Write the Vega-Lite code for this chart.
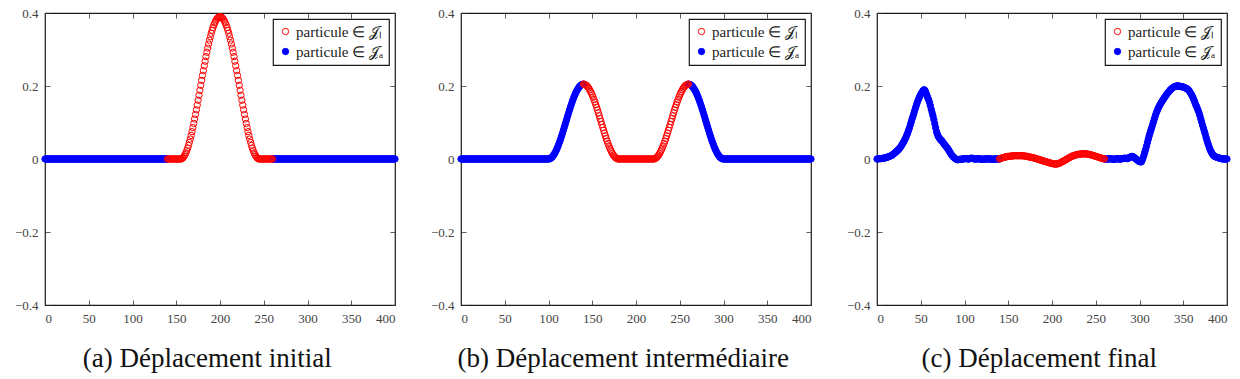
{
  "$schema": "https://vega.github.io/schema/vega-lite/v6.json",
  "padding": {"left": 13, "top": 6, "right": 3, "bottom": 2},
  "background": "white",
  "config": {
    "font": "Times New Roman",
    "view": {"stroke": "#1a1a1a", "strokeWidth": 1.2},
    "axis": {"grid": false, "domain": false, "title": null, "tickColor": "#333", "tickSize": -5, "tickWidth": 0.8, "labelFont": "Times New Roman", "labelFontSize": 13, "labelColor": "#444", "labelPadding": 12},
    "legend": {"orient": "top-right", "offset": 6, "strokeColor": "#1a1a1a", "strokeWidth": 1.2, "fillColor": "white", "padding": 5, "labelFont": "Times New Roman", "labelFontSize": 15, "labelColor": "#222", "labelOffset": 3, "symbolSize": 40, "symbolStrokeWidth": 1, "symbolType": "circle", "rowPadding": 4, "cornerRadius": 0, "title": null},
    "title": {"font": "Times New Roman", "fontSize": 27, "fontWeight": "normal", "color": "#111", "orient": "bottom", "anchor": "middle", "frame": "bounds", "offset": 21},
    "concat": {"spacing": 28}
  },
  "datasets": {
    "pts": [
      {"x":0,"g":"Ja","ini":0,"mid":0,"fin":0},
      {"x":1,"g":"Ja","ini":0,"mid":0,"fin":0},
      {"x":2,"g":"Ja","ini":0,"mid":0,"fin":0.001},
      {"x":3,"g":"Ja","ini":0,"mid":0,"fin":0.001},
      {"x":4,"g":"Ja","ini":0,"mid":0,"fin":0.001},
      {"x":5,"g":"Ja","ini":0,"mid":0,"fin":0.001},
      {"x":6,"g":"Ja","ini":0,"mid":0,"fin":0.002},
      {"x":7,"g":"Ja","ini":0,"mid":0,"fin":0.002},
      {"x":8,"g":"Ja","ini":0,"mid":0,"fin":0.002},
      {"x":9,"g":"Ja","ini":0,"mid":0,"fin":0.003},
      {"x":10,"g":"Ja","ini":0,"mid":0,"fin":0.004},
      {"x":11,"g":"Ja","ini":0,"mid":0,"fin":0.004},
      {"x":12,"g":"Ja","ini":0,"mid":0,"fin":0.005},
      {"x":13,"g":"Ja","ini":0,"mid":0,"fin":0.006},
      {"x":14,"g":"Ja","ini":0,"mid":0,"fin":0.007},
      {"x":15,"g":"Ja","ini":0,"mid":0,"fin":0.008},
      {"x":16,"g":"Ja","ini":0,"mid":0,"fin":0.009},
      {"x":17,"g":"Ja","ini":0,"mid":0,"fin":0.01},
      {"x":18,"g":"Ja","ini":0,"mid":0,"fin":0.012},
      {"x":19,"g":"Ja","ini":0,"mid":0,"fin":0.014},
      {"x":20,"g":"Ja","ini":0,"mid":0,"fin":0.016},
      {"x":21,"g":"Ja","ini":0,"mid":0,"fin":0.018},
      {"x":22,"g":"Ja","ini":0,"mid":0,"fin":0.02},
      {"x":23,"g":"Ja","ini":0,"mid":0,"fin":0.022},
      {"x":24,"g":"Ja","ini":0,"mid":0,"fin":0.025},
      {"x":25,"g":"Ja","ini":0,"mid":0,"fin":0.027},
      {"x":26,"g":"Ja","ini":0,"mid":0,"fin":0.03},
      {"x":27,"g":"Ja","ini":0,"mid":0,"fin":0.033},
      {"x":28,"g":"Ja","ini":0,"mid":0,"fin":0.037},
      {"x":29,"g":"Ja","ini":0,"mid":0,"fin":0.041},
      {"x":30,"g":"Ja","ini":0,"mid":0,"fin":0.045},
      {"x":31,"g":"Ja","ini":0,"mid":0,"fin":0.049},
      {"x":32,"g":"Ja","ini":0,"mid":0,"fin":0.054},
      {"x":33,"g":"Ja","ini":0,"mid":0,"fin":0.059},
      {"x":34,"g":"Ja","ini":0,"mid":0,"fin":0.065},
      {"x":35,"g":"Ja","ini":0,"mid":0,"fin":0.071},
      {"x":36,"g":"Ja","ini":0,"mid":0,"fin":0.078},
      {"x":37,"g":"Ja","ini":0,"mid":0,"fin":0.085},
      {"x":38,"g":"Ja","ini":0,"mid":0,"fin":0.093},
      {"x":39,"g":"Ja","ini":0,"mid":0,"fin":0.101},
      {"x":40,"g":"Ja","ini":0,"mid":0,"fin":0.109},
      {"x":41,"g":"Ja","ini":0,"mid":0,"fin":0.116},
      {"x":42,"g":"Ja","ini":0,"mid":0,"fin":0.124},
      {"x":43,"g":"Ja","ini":0,"mid":0,"fin":0.132},
      {"x":44,"g":"Ja","ini":0,"mid":0,"fin":0.14},
      {"x":45,"g":"Ja","ini":0,"mid":0,"fin":0.147},
      {"x":46,"g":"Ja","ini":0,"mid":0,"fin":0.155},
      {"x":47,"g":"Ja","ini":0,"mid":0,"fin":0.161},
      {"x":48,"g":"Ja","ini":0,"mid":0,"fin":0.167},
      {"x":49,"g":"Ja","ini":0,"mid":0,"fin":0.172},
      {"x":50,"g":"Ja","ini":0,"mid":0,"fin":0.177},
      {"x":51,"g":"Ja","ini":0,"mid":0,"fin":0.181},
      {"x":52,"g":"Ja","ini":0,"mid":0,"fin":0.185},
      {"x":53,"g":"Ja","ini":0,"mid":0,"fin":0.188},
      {"x":54,"g":"Ja","ini":0,"mid":0,"fin":0.19},
      {"x":55,"g":"Ja","ini":0,"mid":0,"fin":0.187},
      {"x":56,"g":"Ja","ini":0,"mid":0,"fin":0.181},
      {"x":57,"g":"Ja","ini":0,"mid":0,"fin":0.175},
      {"x":58,"g":"Ja","ini":0,"mid":0,"fin":0.168},
      {"x":59,"g":"Ja","ini":0,"mid":0,"fin":0.162},
      {"x":60,"g":"Ja","ini":0,"mid":0,"fin":0.155},
      {"x":61,"g":"Ja","ini":0,"mid":0,"fin":0.146},
      {"x":62,"g":"Ja","ini":0,"mid":0,"fin":0.136},
      {"x":63,"g":"Ja","ini":0,"mid":0,"fin":0.127},
      {"x":64,"g":"Ja","ini":0,"mid":0,"fin":0.118},
      {"x":65,"g":"Ja","ini":0,"mid":0,"fin":0.108},
      {"x":66,"g":"Ja","ini":0,"mid":0,"fin":0.097},
      {"x":67,"g":"Ja","ini":0,"mid":0,"fin":0.086},
      {"x":68,"g":"Ja","ini":0,"mid":0,"fin":0.075},
      {"x":69,"g":"Ja","ini":0,"mid":0,"fin":0.068},
      {"x":70,"g":"Ja","ini":0,"mid":0,"fin":0.062},
      {"x":71,"g":"Ja","ini":0,"mid":0,"fin":0.058},
      {"x":72,"g":"Ja","ini":0,"mid":0,"fin":0.055},
      {"x":73,"g":"Ja","ini":0,"mid":0,"fin":0.052},
      {"x":74,"g":"Ja","ini":0,"mid":0,"fin":0.05},
      {"x":75,"g":"Ja","ini":0,"mid":0,"fin":0.047},
      {"x":76,"g":"Ja","ini":0,"mid":0,"fin":0.043},
      {"x":77,"g":"Ja","ini":0,"mid":0,"fin":0.04},
      {"x":78,"g":"Ja","ini":0,"mid":0,"fin":0.037},
      {"x":79,"g":"Ja","ini":0,"mid":0,"fin":0.034},
      {"x":80,"g":"Ja","ini":0,"mid":0,"fin":0.031},
      {"x":81,"g":"Ja","ini":0,"mid":0,"fin":0.028},
      {"x":82,"g":"Ja","ini":0,"mid":0,"fin":0.024},
      {"x":83,"g":"Ja","ini":0,"mid":0,"fin":0.02},
      {"x":84,"g":"Ja","ini":0,"mid":0,"fin":0.016},
      {"x":85,"g":"Ja","ini":0,"mid":0,"fin":0.012},
      {"x":86,"g":"Ja","ini":0,"mid":0,"fin":0.009},
      {"x":87,"g":"Ja","ini":0,"mid":0,"fin":0.006},
      {"x":88,"g":"Ja","ini":0,"mid":0,"fin":0.004},
      {"x":89,"g":"Ja","ini":0,"mid":0,"fin":0.002},
      {"x":90,"g":"Ja","ini":0,"mid":0,"fin":0},
      {"x":91,"g":"Ja","ini":0,"mid":0,"fin":-0.001},
      {"x":92,"g":"Ja","ini":0,"mid":0,"fin":-0.002},
      {"x":93,"g":"Ja","ini":0,"mid":0,"fin":-0.002},
      {"x":94,"g":"Ja","ini":0,"mid":0,"fin":-0.001},
      {"x":95,"g":"Ja","ini":0,"mid":0,"fin":-0.001},
      {"x":96,"g":"Ja","ini":0,"mid":0,"fin":-0.001},
      {"x":97,"g":"Ja","ini":0,"mid":0,"fin":0},
      {"x":98,"g":"Ja","ini":0,"mid":0,"fin":0},
      {"x":99,"g":"Ja","ini":0,"mid":0,"fin":0},
      {"x":100,"g":"Ja","ini":0,"mid":0,"fin":0.001},
      {"x":101,"g":"Ja","ini":0,"mid":0.0003,"fin":0.001},
      {"x":102,"g":"Ja","ini":0,"mid":0.0013,"fin":0.001},
      {"x":103,"g":"Ja","ini":0,"mid":0.0028,"fin":0.001},
      {"x":104,"g":"Ja","ini":0,"mid":0.005,"fin":0},
      {"x":105,"g":"Ja","ini":0,"mid":0.0078,"fin":0},
      {"x":106,"g":"Ja","ini":0,"mid":0.0112,"fin":0.001},
      {"x":107,"g":"Ja","ini":0,"mid":0.0151,"fin":0.002},
      {"x":108,"g":"Ja","ini":0,"mid":0.0196,"fin":0.002},
      {"x":109,"g":"Ja","ini":0,"mid":0.0246,"fin":0.002},
      {"x":110,"g":"Ja","ini":0,"mid":0.03,"fin":0.001},
      {"x":111,"g":"Ja","ini":0,"mid":0.0359,"fin":0},
      {"x":112,"g":"Ja","ini":0,"mid":0.0423,"fin":0},
      {"x":113,"g":"Ja","ini":0,"mid":0.0489,"fin":0},
      {"x":114,"g":"Ja","ini":0,"mid":0.056,"fin":0},
      {"x":115,"g":"Ja","ini":0,"mid":0.0633,"fin":0.001},
      {"x":116,"g":"Ja","ini":0,"mid":0.0708,"fin":0.001},
      {"x":117,"g":"Ja","ini":0,"mid":0.0786,"fin":0},
      {"x":118,"g":"Ja","ini":0,"mid":0.0865,"fin":0},
      {"x":119,"g":"Ja","ini":0,"mid":0.0945,"fin":0},
      {"x":120,"g":"Ja","ini":0,"mid":0.1025,"fin":-0.001},
      {"x":121,"g":"Ja","ini":0,"mid":0.1105,"fin":-0.001},
      {"x":122,"g":"Ja","ini":0,"mid":0.1185,"fin":0},
      {"x":123,"g":"Ja","ini":0,"mid":0.1264,"fin":0},
      {"x":124,"g":"Ja","ini":0,"mid":0.1342,"fin":0},
      {"x":125,"g":"Ja","ini":0,"mid":0.1417,"fin":0},
      {"x":126,"g":"Ja","ini":0,"mid":0.149,"fin":0.001},
      {"x":127,"g":"Ja","ini":0,"mid":0.1561,"fin":0},
      {"x":128,"g":"Ja","ini":0,"mid":0.1627,"fin":0},
      {"x":129,"g":"Ja","ini":0,"mid":0.1691,"fin":0},
      {"x":130,"g":"Ja","ini":0,"mid":0.175,"fin":0},
      {"x":131,"g":"Ja","ini":0,"mid":0.1804,"fin":0},
      {"x":132,"g":"Ja","ini":0,"mid":0.1854,"fin":-0.001},
      {"x":133,"g":"Ja","ini":0,"mid":0.1899,"fin":-0.001},
      {"x":134,"g":"Ja","ini":0,"mid":0.1938,"fin":0},
      {"x":135,"g":"Ja","ini":0,"mid":0.1972,"fin":0},
      {"x":136,"g":"Ja","ini":0,"mid":0.2,"fin":0},
      {"x":137,"g":"Ja","ini":0,"mid":0.2022,"fin":0},
      {"x":138,"g":"Ja","ini":0,"mid":0.2037,"fin":0},
      {"x":139,"g":"Ja","ini":0,"mid":0.2047,"fin":0},
      {"x":140,"g":"Ja","ini":0,"mid":0.205,"fin":0},
      {"x":260,"g":"Ja","ini":0,"mid":0.205,"fin":0},
      {"x":261,"g":"Ja","ini":0,"mid":0.2047,"fin":0},
      {"x":262,"g":"Ja","ini":0,"mid":0.2037,"fin":0},
      {"x":263,"g":"Ja","ini":0,"mid":0.2022,"fin":0},
      {"x":264,"g":"Ja","ini":0,"mid":0.2,"fin":0},
      {"x":265,"g":"Ja","ini":0,"mid":0.1972,"fin":0},
      {"x":266,"g":"Ja","ini":0,"mid":0.1938,"fin":0.001},
      {"x":267,"g":"Ja","ini":0,"mid":0.1899,"fin":0.001},
      {"x":268,"g":"Ja","ini":0,"mid":0.1854,"fin":0},
      {"x":269,"g":"Ja","ini":0,"mid":0.1804,"fin":0},
      {"x":270,"g":"Ja","ini":0,"mid":0.175,"fin":-0.001},
      {"x":271,"g":"Ja","ini":0,"mid":0.1691,"fin":-0.001},
      {"x":272,"g":"Ja","ini":0,"mid":0.1627,"fin":0},
      {"x":273,"g":"Ja","ini":0,"mid":0.1561,"fin":0},
      {"x":274,"g":"Ja","ini":0,"mid":0.149,"fin":0.001},
      {"x":275,"g":"Ja","ini":0,"mid":0.1417,"fin":0.001},
      {"x":276,"g":"Ja","ini":0,"mid":0.1342,"fin":0},
      {"x":277,"g":"Ja","ini":0,"mid":0.1264,"fin":0},
      {"x":278,"g":"Ja","ini":0,"mid":0.1185,"fin":0},
      {"x":279,"g":"Ja","ini":0,"mid":0.1105,"fin":0},
      {"x":280,"g":"Ja","ini":0,"mid":0.1025,"fin":0.001},
      {"x":281,"g":"Ja","ini":0,"mid":0.0945,"fin":0.001},
      {"x":282,"g":"Ja","ini":0,"mid":0.0865,"fin":0.002},
      {"x":283,"g":"Ja","ini":0,"mid":0.0786,"fin":0.002},
      {"x":284,"g":"Ja","ini":0,"mid":0.0708,"fin":0.002},
      {"x":285,"g":"Ja","ini":0,"mid":0.0633,"fin":0.002},
      {"x":286,"g":"Ja","ini":0,"mid":0.056,"fin":0.001},
      {"x":287,"g":"Ja","ini":0,"mid":0.0489,"fin":0.002},
      {"x":288,"g":"Ja","ini":0,"mid":0.0423,"fin":0.003},
      {"x":289,"g":"Ja","ini":0,"mid":0.0359,"fin":0.005},
      {"x":290,"g":"Ja","ini":0,"mid":0.03,"fin":0.006},
      {"x":291,"g":"Ja","ini":0,"mid":0.0246,"fin":0.007},
      {"x":292,"g":"Ja","ini":0,"mid":0.0196,"fin":0.007},
      {"x":293,"g":"Ja","ini":0,"mid":0.0151,"fin":0.006},
      {"x":294,"g":"Ja","ini":0,"mid":0.0112,"fin":0.004},
      {"x":295,"g":"Ja","ini":0,"mid":0.0078,"fin":0.002},
      {"x":296,"g":"Ja","ini":0,"mid":0.005,"fin":0},
      {"x":297,"g":"Ja","ini":0,"mid":0.0028,"fin":-0.002},
      {"x":298,"g":"Ja","ini":0,"mid":0.0013,"fin":-0.004},
      {"x":299,"g":"Ja","ini":0,"mid":0.0003,"fin":-0.006},
      {"x":300,"g":"Ja","ini":0,"mid":0,"fin":-0.007},
      {"x":301,"g":"Ja","ini":0,"mid":0,"fin":-0.008},
      {"x":302,"g":"Ja","ini":0,"mid":0,"fin":-0.008},
      {"x":303,"g":"Ja","ini":0,"mid":0,"fin":-0.004},
      {"x":304,"g":"Ja","ini":0,"mid":0,"fin":0.003},
      {"x":305,"g":"Ja","ini":0,"mid":0,"fin":0.01},
      {"x":306,"g":"Ja","ini":0,"mid":0,"fin":0.018},
      {"x":307,"g":"Ja","ini":0,"mid":0,"fin":0.026},
      {"x":308,"g":"Ja","ini":0,"mid":0,"fin":0.035},
      {"x":309,"g":"Ja","ini":0,"mid":0,"fin":0.045},
      {"x":310,"g":"Ja","ini":0,"mid":0,"fin":0.054},
      {"x":311,"g":"Ja","ini":0,"mid":0,"fin":0.063},
      {"x":312,"g":"Ja","ini":0,"mid":0,"fin":0.071},
      {"x":313,"g":"Ja","ini":0,"mid":0,"fin":0.079},
      {"x":314,"g":"Ja","ini":0,"mid":0,"fin":0.086},
      {"x":315,"g":"Ja","ini":0,"mid":0,"fin":0.094},
      {"x":316,"g":"Ja","ini":0,"mid":0,"fin":0.102},
      {"x":317,"g":"Ja","ini":0,"mid":0,"fin":0.11},
      {"x":318,"g":"Ja","ini":0,"mid":0,"fin":0.118},
      {"x":319,"g":"Ja","ini":0,"mid":0,"fin":0.125},
      {"x":320,"g":"Ja","ini":0,"mid":0,"fin":0.131},
      {"x":321,"g":"Ja","ini":0,"mid":0,"fin":0.137},
      {"x":322,"g":"Ja","ini":0,"mid":0,"fin":0.142},
      {"x":323,"g":"Ja","ini":0,"mid":0,"fin":0.147},
      {"x":324,"g":"Ja","ini":0,"mid":0,"fin":0.151},
      {"x":325,"g":"Ja","ini":0,"mid":0,"fin":0.155},
      {"x":326,"g":"Ja","ini":0,"mid":0,"fin":0.159},
      {"x":327,"g":"Ja","ini":0,"mid":0,"fin":0.163},
      {"x":328,"g":"Ja","ini":0,"mid":0,"fin":0.166},
      {"x":329,"g":"Ja","ini":0,"mid":0,"fin":0.17},
      {"x":330,"g":"Ja","ini":0,"mid":0,"fin":0.173},
      {"x":331,"g":"Ja","ini":0,"mid":0,"fin":0.177},
      {"x":332,"g":"Ja","ini":0,"mid":0,"fin":0.18},
      {"x":333,"g":"Ja","ini":0,"mid":0,"fin":0.183},
      {"x":334,"g":"Ja","ini":0,"mid":0,"fin":0.186},
      {"x":335,"g":"Ja","ini":0,"mid":0,"fin":0.189},
      {"x":336,"g":"Ja","ini":0,"mid":0,"fin":0.191},
      {"x":337,"g":"Ja","ini":0,"mid":0,"fin":0.193},
      {"x":338,"g":"Ja","ini":0,"mid":0,"fin":0.195},
      {"x":339,"g":"Ja","ini":0,"mid":0,"fin":0.197},
      {"x":340,"g":"Ja","ini":0,"mid":0,"fin":0.198},
      {"x":341,"g":"Ja","ini":0,"mid":0,"fin":0.199},
      {"x":342,"g":"Ja","ini":0,"mid":0,"fin":0.2},
      {"x":343,"g":"Ja","ini":0,"mid":0,"fin":0.2},
      {"x":344,"g":"Ja","ini":0,"mid":0,"fin":0.2},
      {"x":345,"g":"Ja","ini":0,"mid":0,"fin":0.2},
      {"x":346,"g":"Ja","ini":0,"mid":0,"fin":0.199},
      {"x":347,"g":"Ja","ini":0,"mid":0,"fin":0.199},
      {"x":348,"g":"Ja","ini":0,"mid":0,"fin":0.198},
      {"x":349,"g":"Ja","ini":0,"mid":0,"fin":0.198},
      {"x":350,"g":"Ja","ini":0,"mid":0,"fin":0.197},
      {"x":351,"g":"Ja","ini":0,"mid":0,"fin":0.196},
      {"x":352,"g":"Ja","ini":0,"mid":0,"fin":0.195},
      {"x":353,"g":"Ja","ini":0,"mid":0,"fin":0.194},
      {"x":354,"g":"Ja","ini":0,"mid":0,"fin":0.193},
      {"x":355,"g":"Ja","ini":0,"mid":0,"fin":0.191},
      {"x":356,"g":"Ja","ini":0,"mid":0,"fin":0.189},
      {"x":357,"g":"Ja","ini":0,"mid":0,"fin":0.186},
      {"x":358,"g":"Ja","ini":0,"mid":0,"fin":0.182},
      {"x":359,"g":"Ja","ini":0,"mid":0,"fin":0.178},
      {"x":360,"g":"Ja","ini":0,"mid":0,"fin":0.174},
      {"x":361,"g":"Ja","ini":0,"mid":0,"fin":0.169},
      {"x":362,"g":"Ja","ini":0,"mid":0,"fin":0.163},
      {"x":363,"g":"Ja","ini":0,"mid":0,"fin":0.157},
      {"x":364,"g":"Ja","ini":0,"mid":0,"fin":0.15},
      {"x":365,"g":"Ja","ini":0,"mid":0,"fin":0.145},
      {"x":366,"g":"Ja","ini":0,"mid":0,"fin":0.139},
      {"x":367,"g":"Ja","ini":0,"mid":0,"fin":0.133},
      {"x":368,"g":"Ja","ini":0,"mid":0,"fin":0.127},
      {"x":369,"g":"Ja","ini":0,"mid":0,"fin":0.119},
      {"x":370,"g":"Ja","ini":0,"mid":0,"fin":0.11},
      {"x":371,"g":"Ja","ini":0,"mid":0,"fin":0.102},
      {"x":372,"g":"Ja","ini":0,"mid":0,"fin":0.093},
      {"x":373,"g":"Ja","ini":0,"mid":0,"fin":0.085},
      {"x":374,"g":"Ja","ini":0,"mid":0,"fin":0.077},
      {"x":375,"g":"Ja","ini":0,"mid":0,"fin":0.069},
      {"x":376,"g":"Ja","ini":0,"mid":0,"fin":0.06},
      {"x":377,"g":"Ja","ini":0,"mid":0,"fin":0.052},
      {"x":378,"g":"Ja","ini":0,"mid":0,"fin":0.044},
      {"x":379,"g":"Ja","ini":0,"mid":0,"fin":0.037},
      {"x":380,"g":"Ja","ini":0,"mid":0,"fin":0.03},
      {"x":381,"g":"Ja","ini":0,"mid":0,"fin":0.024},
      {"x":382,"g":"Ja","ini":0,"mid":0,"fin":0.019},
      {"x":383,"g":"Ja","ini":0,"mid":0,"fin":0.015},
      {"x":384,"g":"Ja","ini":0,"mid":0,"fin":0.011},
      {"x":385,"g":"Ja","ini":0,"mid":0,"fin":0.009},
      {"x":386,"g":"Ja","ini":0,"mid":0,"fin":0.007},
      {"x":387,"g":"Ja","ini":0,"mid":0,"fin":0.006},
      {"x":388,"g":"Ja","ini":0,"mid":0,"fin":0.005},
      {"x":389,"g":"Ja","ini":0,"mid":0,"fin":0.004},
      {"x":390,"g":"Ja","ini":0,"mid":0,"fin":0.003},
      {"x":391,"g":"Ja","ini":0,"mid":0,"fin":0.003},
      {"x":392,"g":"Ja","ini":0,"mid":0,"fin":0.002},
      {"x":393,"g":"Ja","ini":0,"mid":0,"fin":0.001},
      {"x":394,"g":"Ja","ini":0,"mid":0,"fin":0.001},
      {"x":395,"g":"Ja","ini":0,"mid":0,"fin":0},
      {"x":396,"g":"Ja","ini":0,"mid":0,"fin":0},
      {"x":397,"g":"Ja","ini":0,"mid":0,"fin":0},
      {"x":398,"g":"Ja","ini":0,"mid":0,"fin":0},
      {"x":399,"g":"Ja","ini":0,"mid":0,"fin":0},
      {"x":400,"g":"Ja","ini":0,"mid":0,"fin":0},
      {"x":140,"g":"Jl","ini":0,"mid":0.205,"fin":0},
      {"x":141,"g":"Jl","ini":0,"mid":0.2047,"fin":0.001},
      {"x":142,"g":"Jl","ini":0,"mid":0.2037,"fin":0.002},
      {"x":143,"g":"Jl","ini":0,"mid":0.2022,"fin":0.003},
      {"x":144,"g":"Jl","ini":0,"mid":0.2,"fin":0.004},
      {"x":145,"g":"Jl","ini":0,"mid":0.1972,"fin":0.004},
      {"x":146,"g":"Jl","ini":0,"mid":0.1938,"fin":0.005},
      {"x":147,"g":"Jl","ini":0,"mid":0.1899,"fin":0.006},
      {"x":148,"g":"Jl","ini":0,"mid":0.1854,"fin":0.006},
      {"x":149,"g":"Jl","ini":0,"mid":0.1804,"fin":0.007},
      {"x":150,"g":"Jl","ini":0,"mid":0.175,"fin":0.007},
      {"x":151,"g":"Jl","ini":0,"mid":0.1691,"fin":0.007},
      {"x":152,"g":"Jl","ini":0,"mid":0.1627,"fin":0.008},
      {"x":153,"g":"Jl","ini":0,"mid":0.1561,"fin":0.008},
      {"x":154,"g":"Jl","ini":0,"mid":0.149,"fin":0.008},
      {"x":155,"g":"Jl","ini":0,"mid":0.1417,"fin":0.008},
      {"x":156,"g":"Jl","ini":0.0005,"mid":0.1342,"fin":0.009},
      {"x":157,"g":"Jl","ini":0.0019,"mid":0.1264,"fin":0.009},
      {"x":158,"g":"Jl","ini":0.0043,"mid":0.1185,"fin":0.009},
      {"x":159,"g":"Jl","ini":0.0076,"mid":0.1105,"fin":0.009},
      {"x":160,"g":"Jl","ini":0.0118,"mid":0.1025,"fin":0.009},
      {"x":161,"g":"Jl","ini":0.0169,"mid":0.0945,"fin":0.009},
      {"x":162,"g":"Jl","ini":0.0228,"mid":0.0865,"fin":0.009},
      {"x":163,"g":"Jl","ini":0.0296,"mid":0.0786,"fin":0.009},
      {"x":164,"g":"Jl","ini":0.0372,"mid":0.0708,"fin":0.009},
      {"x":165,"g":"Jl","ini":0.0456,"mid":0.0633,"fin":0.009},
      {"x":166,"g":"Jl","ini":0.0547,"mid":0.056,"fin":0.009},
      {"x":167,"g":"Jl","ini":0.0645,"mid":0.0489,"fin":0.009},
      {"x":168,"g":"Jl","ini":0.0749,"mid":0.0423,"fin":0.008},
      {"x":169,"g":"Jl","ini":0.086,"mid":0.0359,"fin":0.008},
      {"x":170,"g":"Jl","ini":0.0975,"mid":0.03,"fin":0.008},
      {"x":171,"g":"Jl","ini":0.1095,"mid":0.0246,"fin":0.007},
      {"x":172,"g":"Jl","ini":0.122,"mid":0.0196,"fin":0.007},
      {"x":173,"g":"Jl","ini":0.1347,"mid":0.0151,"fin":0.006},
      {"x":174,"g":"Jl","ini":0.1478,"mid":0.0112,"fin":0.006},
      {"x":175,"g":"Jl","ini":0.1611,"mid":0.0078,"fin":0.005},
      {"x":176,"g":"Jl","ini":0.1746,"mid":0.005,"fin":0.005},
      {"x":177,"g":"Jl","ini":0.1882,"mid":0.0028,"fin":0.004},
      {"x":178,"g":"Jl","ini":0.2018,"mid":0.0013,"fin":0.004},
      {"x":179,"g":"Jl","ini":0.2154,"mid":0.0003,"fin":0.003},
      {"x":180,"g":"Jl","ini":0.2289,"mid":0,"fin":0.002},
      {"x":181,"g":"Jl","ini":0.2422,"mid":0,"fin":0.002},
      {"x":182,"g":"Jl","ini":0.2553,"mid":0,"fin":0.001},
      {"x":183,"g":"Jl","ini":0.268,"mid":0,"fin":0},
      {"x":184,"g":"Jl","ini":0.2805,"mid":0,"fin":-0.001},
      {"x":185,"g":"Jl","ini":0.2925,"mid":0,"fin":-0.001},
      {"x":186,"g":"Jl","ini":0.304,"mid":0,"fin":-0.002},
      {"x":187,"g":"Jl","ini":0.3151,"mid":0,"fin":-0.003},
      {"x":188,"g":"Jl","ini":0.3255,"mid":0,"fin":-0.004},
      {"x":189,"g":"Jl","ini":0.3353,"mid":0,"fin":-0.004},
      {"x":190,"g":"Jl","ini":0.3444,"mid":0,"fin":-0.005},
      {"x":191,"g":"Jl","ini":0.3528,"mid":0,"fin":-0.006},
      {"x":192,"g":"Jl","ini":0.3604,"mid":0,"fin":-0.007},
      {"x":193,"g":"Jl","ini":0.3672,"mid":0,"fin":-0.007},
      {"x":194,"g":"Jl","ini":0.3731,"mid":0,"fin":-0.008},
      {"x":195,"g":"Jl","ini":0.3782,"mid":0,"fin":-0.009},
      {"x":196,"g":"Jl","ini":0.3824,"mid":0,"fin":-0.01},
      {"x":197,"g":"Jl","ini":0.3857,"mid":0,"fin":-0.01},
      {"x":198,"g":"Jl","ini":0.3881,"mid":0,"fin":-0.011},
      {"x":199,"g":"Jl","ini":0.3895,"mid":0,"fin":-0.012},
      {"x":200,"g":"Jl","ini":0.39,"mid":0,"fin":-0.012},
      {"x":201,"g":"Jl","ini":0.3895,"mid":0,"fin":-0.013},
      {"x":202,"g":"Jl","ini":0.3881,"mid":0,"fin":-0.013},
      {"x":203,"g":"Jl","ini":0.3857,"mid":0,"fin":-0.014},
      {"x":204,"g":"Jl","ini":0.3824,"mid":0,"fin":-0.014},
      {"x":205,"g":"Jl","ini":0.3782,"mid":0,"fin":-0.014},
      {"x":206,"g":"Jl","ini":0.3731,"mid":0,"fin":-0.013},
      {"x":207,"g":"Jl","ini":0.3672,"mid":0,"fin":-0.013},
      {"x":208,"g":"Jl","ini":0.3604,"mid":0,"fin":-0.012},
      {"x":209,"g":"Jl","ini":0.3528,"mid":0,"fin":-0.011},
      {"x":210,"g":"Jl","ini":0.3444,"mid":0,"fin":-0.01},
      {"x":211,"g":"Jl","ini":0.3353,"mid":0,"fin":-0.008},
      {"x":212,"g":"Jl","ini":0.3255,"mid":0,"fin":-0.007},
      {"x":213,"g":"Jl","ini":0.3151,"mid":0,"fin":-0.006},
      {"x":214,"g":"Jl","ini":0.304,"mid":0,"fin":-0.004},
      {"x":215,"g":"Jl","ini":0.2925,"mid":0,"fin":-0.003},
      {"x":216,"g":"Jl","ini":0.2805,"mid":0,"fin":-0.002},
      {"x":217,"g":"Jl","ini":0.268,"mid":0,"fin":0},
      {"x":218,"g":"Jl","ini":0.2553,"mid":0,"fin":0.001},
      {"x":219,"g":"Jl","ini":0.2422,"mid":0,"fin":0.003},
      {"x":220,"g":"Jl","ini":0.2289,"mid":0,"fin":0.004},
      {"x":221,"g":"Jl","ini":0.2154,"mid":0.0003,"fin":0.005},
      {"x":222,"g":"Jl","ini":0.2018,"mid":0.0013,"fin":0.006},
      {"x":223,"g":"Jl","ini":0.1882,"mid":0.0028,"fin":0.008},
      {"x":224,"g":"Jl","ini":0.1746,"mid":0.005,"fin":0.009},
      {"x":225,"g":"Jl","ini":0.1611,"mid":0.0078,"fin":0.009},
      {"x":226,"g":"Jl","ini":0.1478,"mid":0.0112,"fin":0.01},
      {"x":227,"g":"Jl","ini":0.1347,"mid":0.0151,"fin":0.011},
      {"x":228,"g":"Jl","ini":0.122,"mid":0.0196,"fin":0.012},
      {"x":229,"g":"Jl","ini":0.1095,"mid":0.0246,"fin":0.012},
      {"x":230,"g":"Jl","ini":0.0975,"mid":0.03,"fin":0.013},
      {"x":231,"g":"Jl","ini":0.086,"mid":0.0359,"fin":0.013},
      {"x":232,"g":"Jl","ini":0.0749,"mid":0.0423,"fin":0.013},
      {"x":233,"g":"Jl","ini":0.0645,"mid":0.0489,"fin":0.014},
      {"x":234,"g":"Jl","ini":0.0547,"mid":0.056,"fin":0.014},
      {"x":235,"g":"Jl","ini":0.0456,"mid":0.0633,"fin":0.014},
      {"x":236,"g":"Jl","ini":0.0372,"mid":0.0708,"fin":0.014},
      {"x":237,"g":"Jl","ini":0.0296,"mid":0.0786,"fin":0.014},
      {"x":238,"g":"Jl","ini":0.0228,"mid":0.0865,"fin":0.014},
      {"x":239,"g":"Jl","ini":0.0169,"mid":0.0945,"fin":0.014},
      {"x":240,"g":"Jl","ini":0.0118,"mid":0.1025,"fin":0.014},
      {"x":241,"g":"Jl","ini":0.0076,"mid":0.1105,"fin":0.013},
      {"x":242,"g":"Jl","ini":0.0043,"mid":0.1185,"fin":0.013},
      {"x":243,"g":"Jl","ini":0.0019,"mid":0.1264,"fin":0.012},
      {"x":244,"g":"Jl","ini":0.0005,"mid":0.1342,"fin":0.012},
      {"x":245,"g":"Jl","ini":0,"mid":0.1417,"fin":0.011},
      {"x":246,"g":"Jl","ini":0,"mid":0.149,"fin":0.01},
      {"x":247,"g":"Jl","ini":0,"mid":0.1561,"fin":0.01},
      {"x":248,"g":"Jl","ini":0,"mid":0.1627,"fin":0.009},
      {"x":249,"g":"Jl","ini":0,"mid":0.1691,"fin":0.008},
      {"x":250,"g":"Jl","ini":0,"mid":0.175,"fin":0.007},
      {"x":251,"g":"Jl","ini":0,"mid":0.1804,"fin":0.007},
      {"x":252,"g":"Jl","ini":0,"mid":0.1854,"fin":0.006},
      {"x":253,"g":"Jl","ini":0,"mid":0.1899,"fin":0.005},
      {"x":254,"g":"Jl","ini":0,"mid":0.1938,"fin":0.004},
      {"x":255,"g":"Jl","ini":0,"mid":0.1972,"fin":0.003},
      {"x":256,"g":"Jl","ini":0,"mid":0.2,"fin":0.003},
      {"x":257,"g":"Jl","ini":0,"mid":0.2022,"fin":0.002},
      {"x":258,"g":"Jl","ini":0,"mid":0.2037,"fin":0.001},
      {"x":259,"g":"Jl","ini":0,"mid":0.2047,"fin":0.001},
      {"x":260,"g":"Jl","ini":0,"mid":0.205,"fin":0}
    ]
  },
  "hconcat": [
    {
      "width": 350, "height": 292,
      "data": {"name": "pts"},
      "transform": [{"fold": ["ini", "mid", "fin"], "as": ["stage", "u"]}, {"filter": "datum.stage === 'ini'"}],
      "title": {"text": "(a)  Déplacement initial"},
      "layer": [
        {
          "mark": {"type": "point", "filled": true, "size": 40, "strokeWidth": 1, "opacity": 1},
          "encoding": {
            "x": {"field": "x", "type": "quantitative", "scale": {"domain": [0, 400], "nice": false}, "axis": {"orient": "bottom", "values": [0, 50, 100, 150, 200, 250, 300, 350, 400]}},
            "y": {"field": "u", "type": "quantitative", "scale": {"domain": [-0.4, 0.4], "nice": false}, "axis": {"orient": "left", "values": [-0.4, -0.2, 0, 0.2, 0.4], "format": "~g"}},
            "fill": {"field": "g", "type": "nominal", "scale": {"domain": ["Jl", "Ja"], "range": ["transparent", "#0000ff"]}, "legend": {"labelExpr": "datum.value === 'Jl' ? 'particule ∈ 𝒥ₗ' : 'particule ∈ 𝒥ₐ'"}},
            "stroke": {"field": "g", "type": "nominal", "scale": {"domain": ["Jl", "Ja"], "range": ["#ff0000", "#0000ff"]}, "legend": {"labelExpr": "datum.value === 'Jl' ? 'particule ∈ 𝒥ₗ' : 'particule ∈ 𝒥ₐ'"}}
          }
        },
        {
          "mark": {"type": "point", "opacity": 0},
          "encoding": {
            "x": {"field": "x", "type": "quantitative", "scale": {"domain": [0, 400], "nice": false}, "axis": {"orient": "top", "labels": false, "values": [0, 50, 100, 150, 200, 250, 300, 350, 400]}},
            "y": {"field": "u", "type": "quantitative", "scale": {"domain": [-0.4, 0.4], "nice": false}, "axis": {"orient": "right", "labels": false, "values": [-0.4, -0.2, 0, 0.2, 0.4]}}
          }
        }
      ],
      "resolve": {"axis": {"x": "independent", "y": "independent"}}
    },
    {
      "width": 350, "height": 292,
      "data": {"name": "pts"},
      "transform": [{"fold": ["ini", "mid", "fin"], "as": ["stage", "u"]}, {"filter": "datum.stage === 'mid'"}],
      "title": {"text": "(b)  Déplacement intermédiaire"},
      "layer": [
        {
          "mark": {"type": "point", "filled": true, "size": 40, "strokeWidth": 1, "opacity": 1},
          "encoding": {
            "x": {"field": "x", "type": "quantitative", "scale": {"domain": [0, 400], "nice": false}, "axis": {"orient": "bottom", "values": [0, 50, 100, 150, 200, 250, 300, 350, 400]}},
            "y": {"field": "u", "type": "quantitative", "scale": {"domain": [-0.4, 0.4], "nice": false}, "axis": {"orient": "left", "values": [-0.4, -0.2, 0, 0.2, 0.4], "format": "~g"}},
            "fill": {"field": "g", "type": "nominal", "scale": {"domain": ["Jl", "Ja"], "range": ["transparent", "#0000ff"]}, "legend": {"labelExpr": "datum.value === 'Jl' ? 'particule ∈ 𝒥ₗ' : 'particule ∈ 𝒥ₐ'"}},
            "stroke": {"field": "g", "type": "nominal", "scale": {"domain": ["Jl", "Ja"], "range": ["#ff0000", "#0000ff"]}, "legend": {"labelExpr": "datum.value === 'Jl' ? 'particule ∈ 𝒥ₗ' : 'particule ∈ 𝒥ₐ'"}}
          }
        },
        {
          "mark": {"type": "point", "opacity": 0},
          "encoding": {
            "x": {"field": "x", "type": "quantitative", "scale": {"domain": [0, 400], "nice": false}, "axis": {"orient": "top", "labels": false, "values": [0, 50, 100, 150, 200, 250, 300, 350, 400]}},
            "y": {"field": "u", "type": "quantitative", "scale": {"domain": [-0.4, 0.4], "nice": false}, "axis": {"orient": "right", "labels": false, "values": [-0.4, -0.2, 0, 0.2, 0.4]}}
          }
        }
      ],
      "resolve": {"axis": {"x": "independent", "y": "independent"}}
    },
    {
      "width": 350, "height": 292,
      "data": {"name": "pts"},
      "transform": [{"fold": ["ini", "mid", "fin"], "as": ["stage", "u"]}, {"filter": "datum.stage === 'fin'"}],
      "title": {"text": "(c)  Déplacement final"},
      "layer": [
        {
          "mark": {"type": "point", "filled": true, "size": 40, "strokeWidth": 1, "opacity": 1},
          "encoding": {
            "x": {"field": "x", "type": "quantitative", "scale": {"domain": [0, 400], "nice": false}, "axis": {"orient": "bottom", "values": [0, 50, 100, 150, 200, 250, 300, 350, 400]}},
            "y": {"field": "u", "type": "quantitative", "scale": {"domain": [-0.4, 0.4], "nice": false}, "axis": {"orient": "left", "values": [-0.4, -0.2, 0, 0.2, 0.4], "format": "~g"}},
            "fill": {"field": "g", "type": "nominal", "scale": {"domain": ["Jl", "Ja"], "range": ["transparent", "#0000ff"]}, "legend": {"labelExpr": "datum.value === 'Jl' ? 'particule ∈ 𝒥ₗ' : 'particule ∈ 𝒥ₐ'"}},
            "stroke": {"field": "g", "type": "nominal", "scale": {"domain": ["Jl", "Ja"], "range": ["#ff0000", "#0000ff"]}, "legend": {"labelExpr": "datum.value === 'Jl' ? 'particule ∈ 𝒥ₗ' : 'particule ∈ 𝒥ₐ'"}}
          }
        },
        {
          "mark": {"type": "point", "opacity": 0},
          "encoding": {
            "x": {"field": "x", "type": "quantitative", "scale": {"domain": [0, 400], "nice": false}, "axis": {"orient": "top", "labels": false, "values": [0, 50, 100, 150, 200, 250, 300, 350, 400]}},
            "y": {"field": "u", "type": "quantitative", "scale": {"domain": [-0.4, 0.4], "nice": false}, "axis": {"orient": "right", "labels": false, "values": [-0.4, -0.2, 0, 0.2, 0.4]}}
          }
        }
      ],
      "resolve": {"axis": {"x": "independent", "y": "independent"}}
    }
  ],
  "resolve": {"legend": {"fill": "independent", "stroke": "independent"}}
}
